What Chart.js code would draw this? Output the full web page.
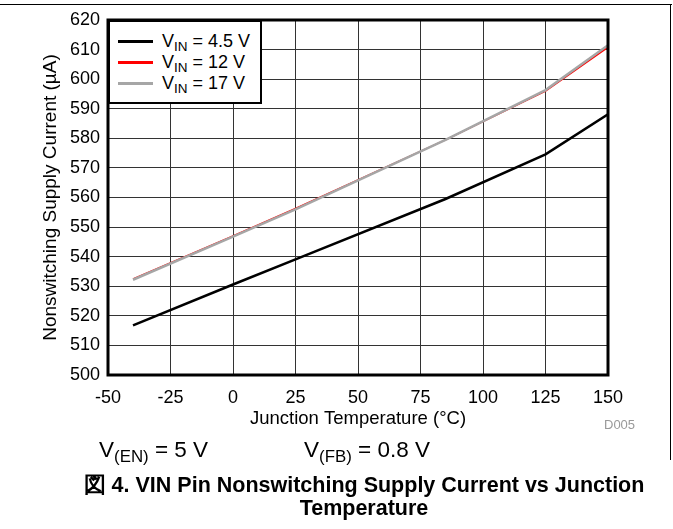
<!DOCTYPE html>
<html>
<head>
<meta charset="utf-8">
<script src="https://cdn.jsdelivr.net/npm/chart.js@4.4.1/dist/chart.umd.min.js"></script>
<style>
    body { margin: 0; background: #fff; font-family: "Liberation Sans", Arial, sans-serif; }
    #wrap { position: relative; width: 673px; height: 529px; overflow: hidden; }
    #chart { position: absolute; left: 0; top: 0; }
    .abs { position: absolute; white-space: nowrap; color: #000; }
    #frameTop { left: 0; top: 4px; width: 672px; height: 0; border-top: 1.5px solid #000; }
    #frameRight { left: 670px; top: 4px; width: 0; height: 456px; border-left: 1.5px solid #000; }
    #legend { left: 108px; top: 20px; width: 150px; height: 80px; border: 2.5px solid #000; background: #fff; }
    .row { position: absolute; left: 8px; height: 20px; font-size: 18px; line-height: 20px; }
    .swatch { position: absolute; left: 0; top: 9px; width: 35px; height: 3px; }
    .lbl { position: absolute; left: 44px; top: 0; }
    sub { font-size: 0.75em; vertical-align: -0.3em; line-height: 0; }
    #code { left: 604px; top: 417px; font-size: 13px; color: #999; }
    .cond { top: 437px; font-size: 22.5px; }
    .cap { left: 0; width: 728px; text-align: center; font-family: "Liberation Sans Narrow", "Liberation Sans", sans-serif; font-weight: bold; font-size: 21.5px; }
</style>
</head>
<body>
<div id="wrap">
    <canvas id="chart" width="673" height="529"></canvas>
    <div class="abs" id="frameTop"></div>
    <div class="abs" id="frameRight"></div>
    <div class="abs" id="legend"></div>
    <div class="abs" id="code">D005</div>
    <div class="abs cond" style="left:99px">V<sub>(EN)</sub> = 5 V</div>
    <div class="abs cond" style="left:304px">V<sub>(FB)</sub> = 0.8 V</div>
    <div class="abs cap" style="top:470px">図 4. VIN Pin Nonswitching Supply Current vs Junction</div>
    <div class="abs cap" style="top:496px">Temperature</div>
</div>
<script>
const temps = [-40, 0, 25, 85, 125, 150];
const vin45 = [516.8, 530.6, 539.1, 559.5, 574.6, 588.1];
const vin12 = [532.5, 547.0, 556.3, 579.5, 596.0, 610.8];
const vin17 = [532.2, 546.8, 556.0, 579.5, 596.3, 611.5];

const seriesNames = ["4.5 V", "12 V", "17 V"];
const seriesColors = ["#000000", "#ff0000", "#a6a6a6"];
const seriesWidths = [2.5, 1.5, 2.5];

const xTicks = [-50, -25, 0, 25, 50, 75, 100, 125, 150];
const yTicks = [500, 510, 520, 530, 540, 550, 560, 570, 580, 590, 600, 610, 620];

const axisFont = { family: "Liberation Sans", size: 18 };
const seriesData = [vin45, vin12, vin17];

// рамка вокруг области графика
const plotBorder = {
    id: 'plotBorder',
    afterDraw(chart) {
        const { ctx, chartArea: a } = chart;
        ctx.save();
        ctx.strokeStyle = "#000";
        ctx.lineWidth = 3;
        ctx.strokeRect(a.left, a.top, a.right - a.left, a.bottom - a.top);
        ctx.restore();
    }
};

new Chart(document.getElementById("chart"), {
    type: 'line',
    data: {
        datasets: seriesData.map((vals, i) => ({
            label: "VIN = " + seriesNames[i],
            data: temps.map((t, j) => ({ x: t, y: vals[j] })),
            borderColor: seriesColors[i],
            borderWidth: seriesWidths[i],
            pointRadius: 0,
            tension: 0,
            fill: false,
            order: [0, 2, 1][i]
        }))
    },
    options: {
        responsive: false,
        animation: false,
        layout: { padding: { left: 0, top: 20, right: 65, bottom: 99 } },
        plugins: { legend: { display: false }, tooltip: { enabled: false } },
        scales: {
            x: {
                type: 'linear',
                min: -50, max: 150,
                afterBuildTicks: s => { s.ticks = xTicks.map(v => ({ value: v })); },
                afterFit: s => { s.height = 55; },
                grid: { color: "#333", lineWidth: 1, drawTicks: false },
                border: { display: false },
                ticks: { color: "#000", font: axisFont, padding: 12, maxRotation: 0 },
                title: { display: true, text: "Junction Temperature (°C)", color: "#000",
                         font: { family: "Liberation Sans", size: 18.5 }, padding: { top: 2, bottom: 0 } }
            },
            y: {
                min: 500, max: 620,
                afterBuildTicks: s => { s.ticks = yTicks.map(v => ({ value: v })); },
                afterFit: s => { s.width = 108; },
                grid: { color: "#333", lineWidth: 1, drawTicks: false },
                border: { display: false },
                ticks: { color: "#000", font: axisFont, padding: 8 },
                title: { display: true, text: "Nonswitching Supply Current (µA)", color: "#000",
                         font: { family: "Liberation Sans", size: 19 }, padding: { top: 39, bottom: 0 } }
            }
        }
    },
    plugins: [plotBorder]
});

// легенда с подстрочными индексами
const legend = document.getElementById("legend");
seriesNames.forEach((name, i) => {
    const row = document.createElement("div");
    row.className = "row";
    row.style.top = (9 + i * 21) + "px";
    row.innerHTML = '<span class="swatch" style="background:' + seriesColors[i] + '"></span>' +
        '<span class="lbl">V<sub>IN</sub> = ' + name + '</span>';
    legend.appendChild(row);
});
</script>
</body>
</html>
